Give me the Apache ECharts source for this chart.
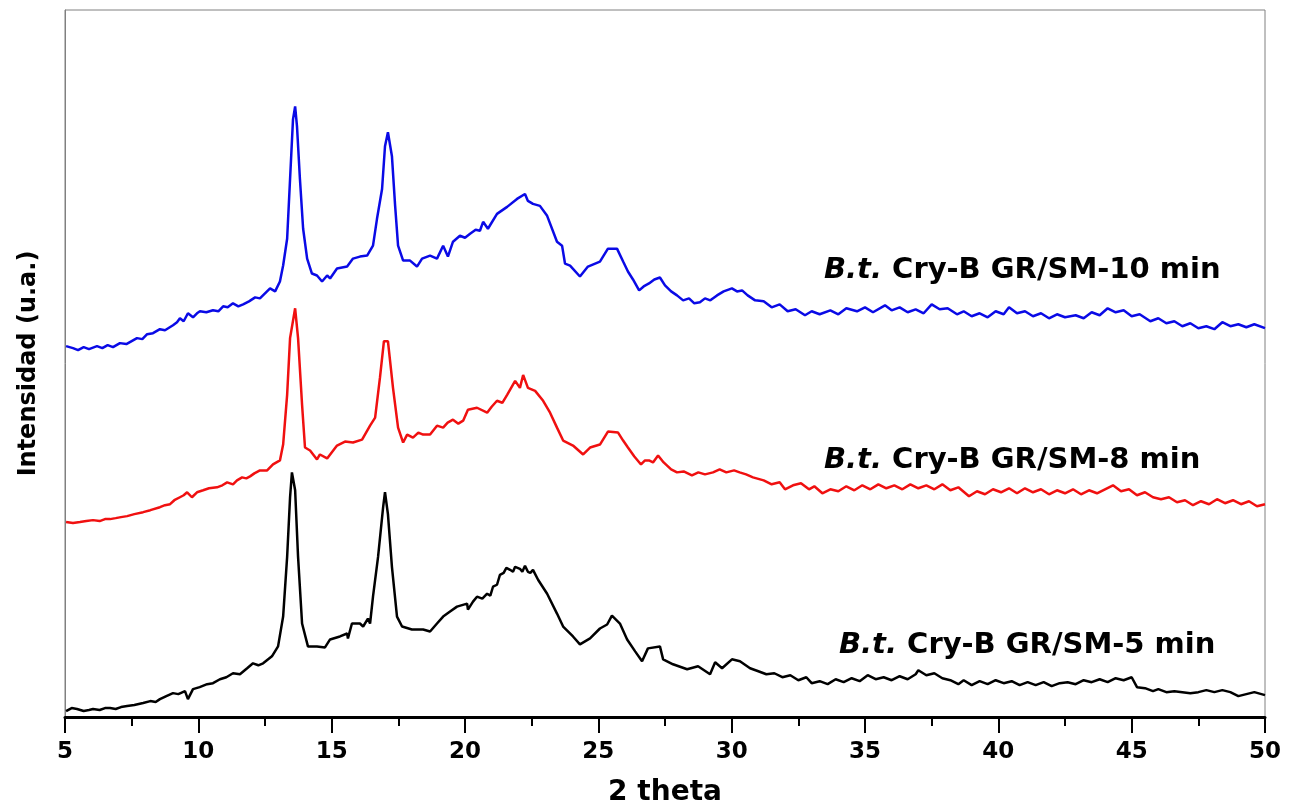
<!DOCTYPE html>
<html><head><meta charset="utf-8">
<script src="https://cdn.jsdelivr.net/npm/echarts@6/dist/echarts.min.js"></script>
<style>html,body{margin:0;padding:0;background:#fff}#c{width:1295px;height:812px}</style>
</head><body><div id="c"></div>
<script>
// ---- data (2 theta, intensity a.u.) ----
const xTicks = [5,10,15,20,25,30,35,40,45,50];
const seriesNames = ['B.t. Cry-B GR/SM-10 min','B.t. Cry-B GR/SM-8 min','B.t. Cry-B GR/SM-5 min'];

const theta10 = [5.04,5.3,5.49,5.7,5.9,6.2,6.4,6.6,6.8,7.06,7.3,7.5,7.7,7.9,8.08,8.3,8.56,8.75,9.05,9.2,9.31,9.45,9.61,9.80,9.95,10.06,10.3,10.55,10.75,10.93,11.1,11.30,11.5,11.68,11.9,12.13,
12.31,12.69,12.88,13.06,13.18,13.33,13.44,13.55,13.63,13.70,13.81,13.93,14.08,14.26,14.45,14.64,14.83,14.94,15.20,15.58,15.80,16.06,16.33,16.55,16.70,16.89,17.00,17.11,17.26,17.38,17.49,17.68,17.94,18.20,18.39,18.69,18.95,19.18,19.36,19.55,19.81,20.0,20.19,20.4,20.56,20.68,20.86,21.20,21.58,21.95,22.25,22.36,22.55,22.81,23.08,23.45,23.64,23.75,23.94,24.31,24.61,25.06,25.36,25.70,25.93,
26.11,26.3,26.53,26.7,26.90,27.1,27.31,27.5,27.73,27.95,28.18,28.4,28.6,28.81,29.0,29.2,29.45,29.7,30.01,30.2,30.39,30.6,30.88,
31.2,31.5,31.8,32.1,32.4,32.75,33.0,33.3,33.7,34.0,34.3,34.7,35.0,35.3,35.75,36.0,36.3,36.6,36.9,37.2,37.5,37.8,38.1,38.45,38.7,39.0,39.3,39.6,39.9,40.2,40.4,40.7,41.0,41.3,41.6,41.9,42.2,42.5,42.9,43.2,43.5,43.8,44.1,44.4,44.7,45.0,45.3,45.7,46.0,46.3,46.6,46.9,47.2,47.5,47.8,48.1,48.4,48.7,49.0,49.3,49.6,50.0];
const inten10 = [373,371,369,372,370,373,371,374,372,376,375,378,381,380,385,386,390,389,394,397,401,398,406,402,406,408,407,409,408,413,412,416,413,415,418,422,
421,431,428,438,454,481,541,601,614,594,541,491,461,446,444,438,444,441,451,453,461,463,464,474,501,531,574,588,564,514,474,459,459,453,461,464,461,474,463,478,484,482,486,490,489,498,491,506,513,521,526,519,516,514,504,478,474,456,454,443,453,458,471,471,458,
448,440,429,433,436,440,442,434,428,424,419,421,416,417,421,419,424,428,431,428,429,424,419,
418,412,415,408,410,404,408,405,409,405,411,408,412,407,414,409,412,407,410,406,415,410,411,405,408,403,406,402,408,405,412,406,408,403,406,401,405,402,404,401,407,404,411,407,409,403,405,398,401,396,398,393,396,391,393,390,397,393,395,392,395,391];

const theta8 = [5.04,5.3,5.56,5.8,6.05,6.3,6.5,6.69,6.9,7.1,7.33,7.6,7.93,8.2,8.56,8.75,8.94,9.1,9.31,9.45,9.58,9.76,9.95,10.18,10.4,10.70,10.9,11.08,11.30,11.45,11.64,11.8,11.94,12.1,
12.31,12.58,12.80,13.06,13.18,13.33,13.44,13.63,13.74,13.89,14.00,14.19,14.45,14.56,14.83,15.20,15.50,15.80,16.14,16.44,16.63,16.81,16.96,17.11,17.30,17.49,17.68,17.83,18.05,18.25,18.43,18.69,18.95,19.18,19.35,19.55,19.75,19.93,20.11,20.45,20.83,21.0,21.20,21.4,21.58,21.88,22.06,22.18,22.36,22.63,22.93,23.19,23.45,23.68,24.05,24.43,24.69,25.06,25.36,25.74,25.93,
26.11,26.35,26.60,26.75,26.90,27.05,27.24,27.45,27.73,27.95,28.2,28.51,28.75,29.0,29.3,29.55,29.8,30.09,30.3,30.54,30.8,
31.2,31.5,31.8,32.0,32.3,32.6,32.9,33.1,33.4,33.7,34.0,34.3,34.6,34.9,35.2,35.5,35.8,36.1,36.4,36.7,37.0,37.3,37.6,37.9,38.2,38.5,38.9,39.2,39.5,39.8,40.1,40.4,40.7,41.0,41.3,41.6,41.9,42.2,42.5,42.8,43.1,43.4,43.7,44.0,44.3,44.6,44.9,45.2,45.5,45.8,46.1,46.4,46.7,47.0,47.3,47.6,47.9,48.2,48.5,48.8,49.1,49.4,49.7,50.0];
const inten8 = [196,195,196,197,198,197,199,199,200,201,202,204,206,208,211,213,214,218,221,223,226,221,226,228,230,231,233,236,234,238,241,240,242,245,
248,248,254,258,274,324,381,411,381,314,271,268,259,264,260,273,277,276,279,293,301,341,378,378,331,291,276,284,281,286,284,284,293,291,296,299,295,298,309,311,306,312,318,316,324,338,331,344,331,328,318,306,291,278,273,264,271,274,287,286,278,
271,262,254,258,258,256,263,256,249,246,247,243,246,244,246,249,246,248,246,244,241,
238,234,236,229,233,235,229,232,225,229,227,232,228,233,229,234,230,233,229,234,230,233,229,234,228,231,222,227,224,229,226,230,225,230,226,229,224,228,225,229,224,228,225,229,233,227,229,223,226,221,219,221,216,218,213,217,214,219,215,218,214,217,212,214];

const theta5 = [5.04,5.25,5.45,5.7,5.9,6.05,6.3,6.5,6.69,6.9,7.1,7.33,7.6,7.93,8.2,8.4,8.56,8.8,9.05,9.25,9.50,9.61,9.80,10.05,10.33,10.55,10.81,11.05,11.30,11.56,11.83,12.05,12.25,
12.43,12.76,12.99,13.18,13.33,13.44,13.51,13.63,13.74,13.89,14.11,14.45,14.75,14.94,15.31,15.58,15.61,15.76,16.06,16.18,16.36,16.44,16.55,16.74,16.93,17.00,17.11,17.26,17.45,17.64,18.01,18.43,18.69,18.95,19.18,19.44,19.70,
20.08,20.11,20.3,20.45,20.65,20.83,20.95,21.05,21.2,21.31,21.45,21.55,21.69,21.8,21.88,21.95,22.06,22.15,22.25,22.36,22.45,22.55,22.6,22.74,
23.08,23.45,23.68,24.05,24.31,24.69,25.06,25.33,25.51,25.81,26.08,26.38,26.64,26.86,27.31,27.43,27.80,28.33,28.74,29.19,29.38,29.64,30.01,30.31,30.69,
31.0,31.3,31.6,31.9,32.2,32.5,32.8,33.0,33.3,33.6,33.9,34.2,34.5,34.8,35.1,35.4,35.7,36.0,36.3,36.6,36.9,37.0,37.3,37.6,37.9,38.2,38.5,38.7,39.0,39.3,39.6,39.9,40.2,40.5,40.8,41.1,41.4,41.7,42.0,42.3,42.6,42.9,43.2,43.5,43.8,44.1,44.4,44.7,45.0,45.2,45.5,45.8,46.0,46.3,46.6,46.9,47.2,47.5,47.8,48.1,48.4,48.7,49.0,49.3,49.6,50.0];
const inten5 = [6,9,8,6,7,8,7,9,9,8,10,11,12,14,16,15,18,21,24,23,26,18,28,30,33,34,38,40,44,43,49,54,52,
54,61,71,101,161,221,246,228,161,94,71,71,70,78,81,84,79,94,94,91,99,94,121,161,211,226,204,151,101,91,88,88,86,94,101,106,111,
114,108,116,121,119,124,122,131,133,143,145,150,148,146,151,153,149,146,152,146,145,148,150,138,
124,104,91,81,73,79,89,93,102,94,78,66,56,69,71,58,53,48,51,43,55,49,58,56,49,
46,43,44,40,42,37,40,34,36,33,38,35,39,36,42,38,40,37,41,38,43,47,42,44,39,37,33,37,32,36,33,37,34,36,32,35,32,35,31,34,35,33,37,35,38,35,39,37,40,30,29,26,28,25,26,25,24,25,27,25,27,25,21,23,25,22];

// ---- chart ----
const FONT = 'DejaVu Sans';
function pairs(xs, ys){ const n = Math.min(xs.length, ys.length); const out=[]; for(let i=0;i<n;i++) out.push([xs[i], ys[i]]); return out; }
const chart = echarts.init(document.getElementById('c'));
const lineBase = {type:'line', showSymbol:false, symbol:'none', smooth:false, animation:false};
const richStyle = {
  i:{fontFamily:FONT, fontWeight:'bold', fontStyle:'italic', fontSize:29, fill:'#000'},
  b:{fontFamily:FONT, fontWeight:'bold', fontSize:29, fill:'#000'}
};
function label(name, x, y){
  const parts = name.split(' ');
  const head = parts.shift();
  return {type:'text', x:x, y:y, z:100, style:{
    text:'{i|'+head+'}{b| '+parts.join(' ')+'}', rich:richStyle,
    font:'bold 29px "DejaVu Sans"', verticalAlign:'middle', align:'left', fill:'#000'}};
}
chart.setOption({
  animation:false,
  backgroundColor:'#fff',
  grid:{left:65, right:30, top:10, bottom:91, show:true, borderColor:'#808080', borderWidth:1, backgroundColor:'transparent'},
  xAxis:{type:'value', min:xTicks[0], max:xTicks[xTicks.length-1], interval:5,
    name:'2 theta', nameLocation:'middle', nameGap:62,
    nameTextStyle:{fontFamily:FONT, fontWeight:'bold', fontSize:28, color:'#000'},
    axisLine:{onZero:false, lineStyle:{color:'#000', width:3}},
    axisTick:{inside:false, length:16, lineStyle:{color:'#000', width:2}},
    minorTick:{show:true, splitNumber:2, length:9, lineStyle:{color:'#000', width:2}},
    axisLabel:{margin:24, fontFamily:FONT, fontWeight:'bold', fontSize:23, color:'#000'},
    splitLine:{show:false}, minorSplitLine:{show:false}},
  yAxis:{type:'value', min:0, max:711,
    name:'Intensidad (u.a.)', nameLocation:'middle', nameGap:24,
    nameTextStyle:{fontFamily:FONT, fontWeight:'bold', fontSize:24, color:'#000'},
    axisLine:{show:true, lineStyle:{color:'#808080', width:1}},
    axisTick:{show:false}, axisLabel:{show:false}, splitLine:{show:false}},
  series:[
    Object.assign({}, lineBase, {name:seriesNames[0], data:pairs(theta10, inten10), lineStyle:{color:'#0a0ae6', width:2.5}, itemStyle:{color:'#0a0ae6'}}),
    Object.assign({}, lineBase, {name:seriesNames[1], data:pairs(theta8, inten8), lineStyle:{color:'#f01010', width:2.5}, itemStyle:{color:'#f01010'}}),
    Object.assign({}, lineBase, {name:seriesNames[2], data:pairs(theta5, inten5), lineStyle:{color:'#000', width:2.5}, itemStyle:{color:'#000'}})
  ],
  graphic:[
    label(seriesNames[0], 824, 270),
    label(seriesNames[1], 824, 460),
    label(seriesNames[2], 839, 645)
  ]
});
</script></body></html>
